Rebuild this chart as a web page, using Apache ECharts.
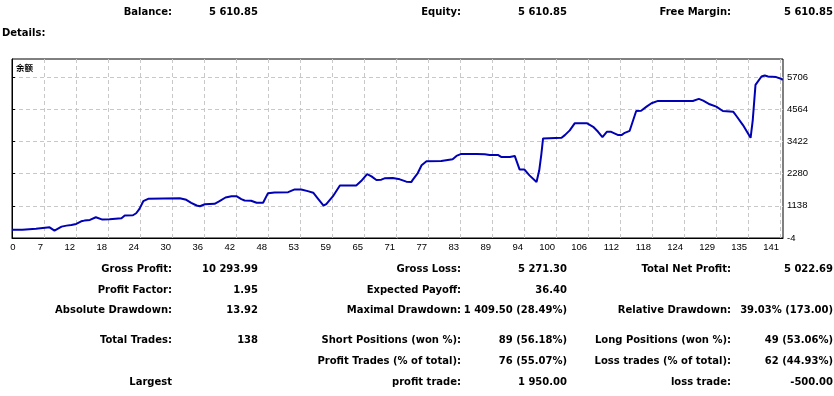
<!doctype html>
<html lang="zh-CN">

<head>
    <meta charset="utf-8" />
    <title>Strategy Tester Report</title>
    <script type="text/javascript" src="https://cdn.jsdelivr.net/npm/echarts@6.0.0/dist/echarts.min.js"></script>
    <style>
        html,
        body {
            margin: 0;
            padding: 0;
            background: #fff;
        }

        #report {
            width: 834px;
            height: 396px;
        }
    </style>
</head>

<body>
    <div id="report"></div>
</body>

<script type="text/javascript">
    // balance curve, x is the trade number of the axis
    let tradeNo = [
        0, 1.9, 2.1, 4.4, 4.6, 6.9, 7.8, 9.1, 10.0, 10.9, 11.8, 12.7, 13.3, 14.3, 15.4, 15.7, 16.6, 17.9, 18.2, 20.1,
        20.7, 22.2, 22.8, 23.4, 24.1, 25.0, 25.3, 30.8, 32.0, 32.9, 33.9, 34.5, 35.4, 37.2, 38.1, 39.2, 40.3, 41.2,
        42.1, 42.7, 43.9, 44.9, 46.1, 47.0, 48.2, 50.7, 51.9, 53.1, 54.3, 55.3, 56.2, 57.2, 57.7, 58.9, 60.2, 63.2,
        64.1, 65.2, 66.0, 66.9, 67.8, 68.4, 69.9, 71.2, 71.5, 72.4, 73.3, 73.6, 74.5, 75.2, 76.1, 78.8, 79.1, 80.9,
        81.6, 82.5, 85.3, 85.6, 86.8, 87.7, 89.2, 89.8, 91.4, 91.7, 92.3, 93.2, 94.1, 95.0, 96.3, 96.8, 97.2, 97.5,
        100.9, 101.5, 102.4, 103.3, 105.6, 106.7, 107.6, 108.4, 109.2, 110.0, 111.3, 111.9, 112.5, 113.4, 114.6,
        115.5, 116.5, 117.4, 118.6, 125.0, 126.1, 126.9, 128.1, 129.3, 130.5, 132.4, 133.0, 134.2, 135.6, 136.0,
        136.5, 137.6, 138.2, 138.8, 140.3, 141.2, 141.5
    ];
    let balance = [
        292, 292, 328, 328, 374, 374, 256, 399, 435, 460, 496, 588, 613, 638, 731, 720, 649, 660, 695, 695,
        792, 803, 874, 1031, 1302, 1388, 1409, 1409, 1352, 1245, 1149, 1124, 1195, 1209, 1302, 1434, 1481, 1481,
        1374, 1327, 1316, 1245, 1245, 1588, 1613, 1623, 1720, 1720, 1659, 1602, 1388, 1149, 1195, 1470, 1862, 1862,
        2016, 2266, 2184, 2052, 2066, 2112, 2123, 2077, 2052, 1995, 1980, 2066, 2301, 2576, 2719, 2730, 2790, 2790,
        2908, 2979, 2979, 2933, 2969, 2944, 2944, 2872, 2872, 2908, 2908, 2423, 2423, 2219, 1980, 2398, 2994, 3529,
        3550, 3647, 3815, 4064, 4064, 3943, 3765, 3575, 3765, 3765, 3647, 3647, 3729, 3800, 4503,
        4514, 4657, 4778, 4860, 4860, 4932, 4871, 4742, 4657, 4503, 4478, 4325, 4004, 3550, 4182,
        5431, 5727, 5763, 5727, 5706, 5645, 5611
    ];
    let xTickLabels = ['0', '7', '12', '18', '24', '30', '36', '42', '48', '53', '59', '65', '71',
        '77', '83', '89', '94', '100', '106', '112', '118', '124', '129', '135', '141'];
    let yTickValues = [-4, 1138, 2280, 3422, 4564, 5706];

    let headerLabels = ['Balance:', 'Equity:', 'Free Margin:'];
    let headerValues = ['5 610.85', '5 610.85', '5 610.85'];

    let col1Labels = ['Gross Profit:', 'Profit Factor:', 'Absolute Drawdown:', 'Total Trades:', '', 'Largest'];
    let col1Values = ['10 293.99', '1.95', '13.92', '138', '', ''];
    let col2Labels = ['Gross Loss:', 'Expected Payoff:', 'Maximal Drawdown:', 'Short Positions (won %):',
        'Profit Trades (% of total):', 'profit trade:'];
    let col2Values = ['5 271.30', '36.40', '1 409.50 (28.49%)', '89 (56.18%)', '76 (55.07%)', '1 950.00'];
    let col3Labels = ['Total Net Profit:', '', 'Relative Drawdown:', 'Long Positions (won %):',
        'Loss trades (% of total):', 'loss trade:'];
    let col3Values = ['5 022.69', '', '39.03% (173.00)', '49 (53.06%)', '62 (44.93%)', '-500.00'];

    // layout
    let labelRight = [172, 461, 731];
    let valueRight = [258, 567, 833];
    let rowY = [269, 290, 310.5, 340.5, 361.5, 382];
    let boldFont = 'bold 10px "DejaVu Sans"';

    let xStep = 141 / 24;
    let xTickValues = xTickLabels.map((s, k) => k * xStep);
    let xLabelValues = xTickValues.slice();
    xLabelValues[0] = 0.85;   // the "0" sits just inside the frame

    let curve = tradeNo.map((x, i) => [x, balance[i]]);

    let text_item = function (text, x, y, align, font) {
        return {
            type: 'text',
            x: x,
            y: y,
            silent: true,
            style: {
                text: text,
                font: font || boldFont,
                fill: '#000',
                align: align,
                verticalAlign: 'middle',
                textAlign: align,
                textVerticalAlign: 'middle'
            }
        };
    };

    let texts = [];

    for (let i = 0; i < headerLabels.length; i++) {
        texts.push(text_item(headerLabels[i], labelRight[i], 12, 'right'));
        texts.push(text_item(headerValues[i], valueRight[i], 12, 'right'));
    }

    texts.push(text_item('Details:', 2, 33, 'left'));
    texts.push(text_item('余额', 16, 68, 'left', 'bold 8.5px "Noto Sans CJK SC"'));

    let columns = [[col1Labels, col1Values], [col2Labels, col2Values], [col3Labels, col3Values]];

    for (let c = 0; c < columns.length; c++) {
        for (let r = 0; r < rowY.length; r++) {
            if (columns[c][0][r]) texts.push(text_item(columns[c][0][r], labelRight[c], rowY[r], 'right'));
            if (columns[c][1][r]) texts.push(text_item(columns[c][1][r], valueRight[c], rowY[r], 'right'));
        }
    }

    let gridLine = {
        show: true,
        lineStyle: { color: '#c8c8c8', type: [4, 3], width: 1 }
    };

    let option = {
        animation: false,
        backgroundColor: '#fff',
        grid: {
            left: 12,
            right: 51,
            top: 59,
            bottom: 158,
            show: true,
            borderColor: '#000',
            borderWidth: 1,
            backgroundColor: '#fff'
        },
        xAxis: {
            type: 'value',
            min: 0,
            max: 141.55,
            axisLine: { show: true, lineStyle: { color: '#000', width: 1 } },
            axisTick: { show: false, customValues: xTickValues },
            axisLabel: {
                customValues: xLabelValues,
                align: 'right',
                margin: 4,
                padding: [0, 1, 0, 0],
                color: '#000',
                fontSize: 9.5,
                fontFamily: '"Liberation Sans"',
                formatter: function (v) {
                    let k = xLabelValues.findIndex(a => Math.abs(a - v) < 0.01);
                    return k < 0 ? '' : xTickLabels[k];
                }
            },
            splitLine: gridLine
        },
        yAxis: {
            type: 'value',
            position: 'right',
            min: -4,
            max: 6348,
            axisLine: { show: true, lineStyle: { color: '#000', width: 1 } },
            axisTick: { show: true, length: 3, customValues: yTickValues, lineStyle: { color: '#000' } },
            axisLabel: {
                customValues: yTickValues,
                margin: 4,
                color: '#000',
                fontSize: 9.5,
                fontFamily: '"Liberation Sans"',
                formatter: v => String(Math.round(v))
            },
            splitLine: gridLine
        },
        series: [{
            type: 'line',
            data: curve,
            showSymbol: false,
            symbol: 'none',
            clip: true,
            lineStyle: { color: '#0000b4', width: 2 }
        }],
        graphic: { elements: texts }
    };

    let myChart = echarts.init(document.getElementById('report'));
    myChart.setOption(option);
</script>

</html>
